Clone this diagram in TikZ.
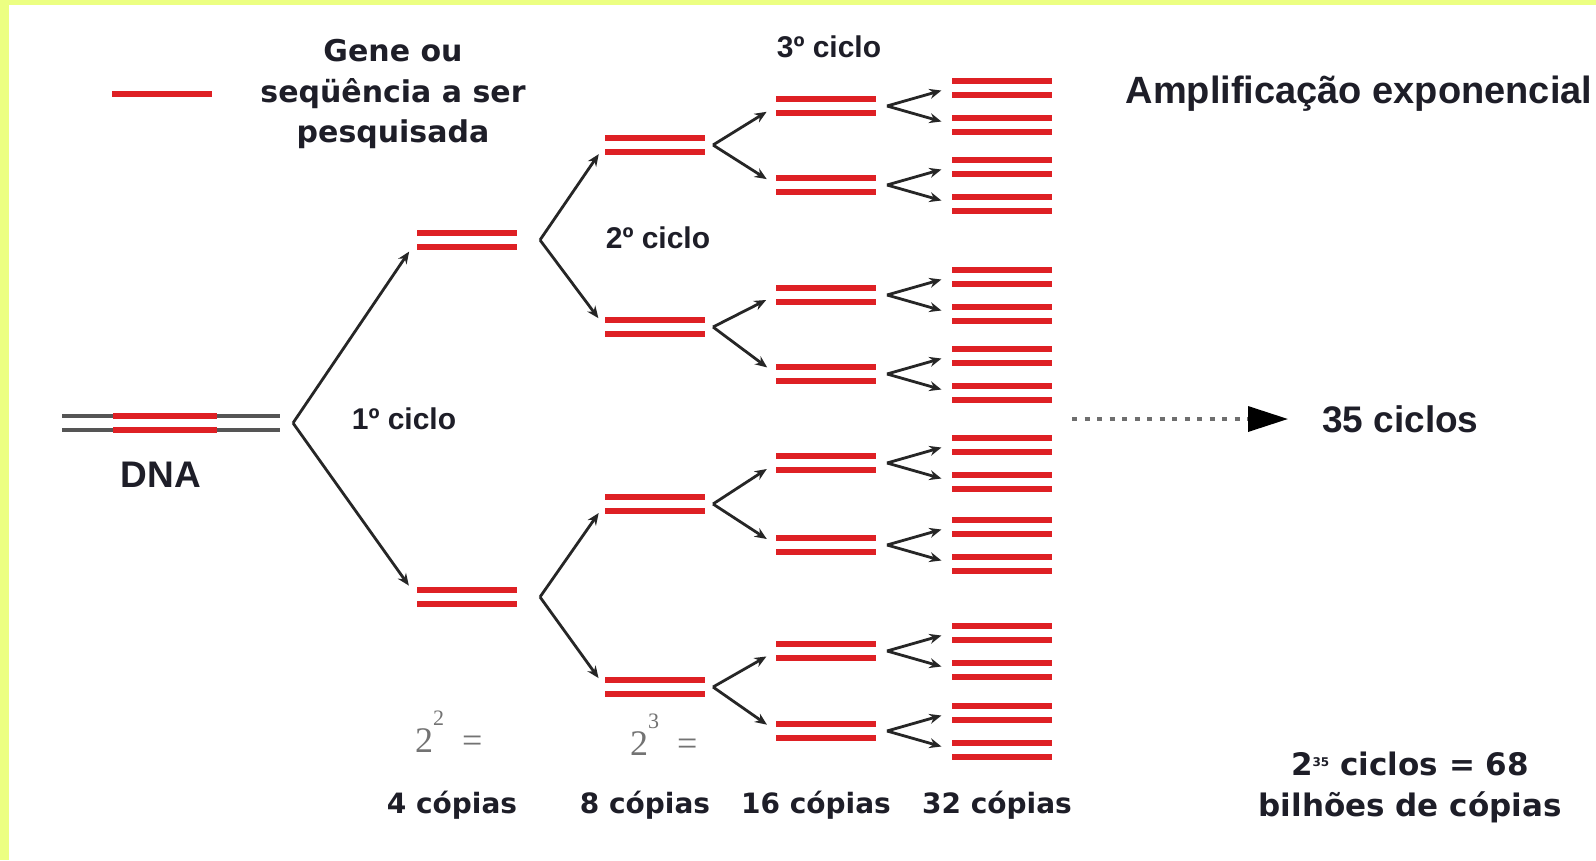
\documentclass[tikz,border=0pt]{standalone}
\usepackage{fontspec}
\setmainfont{Liberation Sans}
\newfontfamily\dvsans{DejaVu Sans}
\newfontfamily\lserif{Liberation Serif}
\usetikzlibrary{arrows.meta}
\definecolor{bgyel}{RGB}{236,255,130}
\definecolor{genered}{RGB}{222,32,36}
\definecolor{txt}{RGB}{30,30,40}
\definecolor{greytxt}{RGB}{115,115,115}
\definecolor{dnagrey}{RGB}{85,85,85}
\definecolor{dotgrey}{RGB}{110,110,110}
\newcommand{\genepair}[3]{%
  \node[genebox] (#1) at (#2,#3) {};
  \draw[redline] (#1.north west) -- (#1.north east);
  \draw[redline] (#1.south west) -- (#1.south east);}
\newcommand{\supn}[1]{\raisebox{27pt}{\fontsize{22}{22}\selectfont #1}}
\begin{document}
\begin{tikzpicture}[x=1pt,y=-1pt,
  genebox/.style={minimum width=100pt,minimum height=14pt,inner sep=0pt,outer sep=0pt},
  redline/.style={genered,line width=6pt},
  greyline/.style={dnagrey,line width=3.5pt},
  arr/.style={-{Stealth[length=12pt,width=10pt]},line width=2.8pt,black!85,shorten >=11pt},
  cyc/.style={inner sep=0pt,text=txt,font=\bfseries\fontsize{30}{36}\selectfont},
  big/.style={inner sep=0pt,text=txt,font=\bfseries\fontsize{37}{44}\selectfont},
  dv/.style={inner sep=0pt,text=txt,font=\dvsans\bfseries\fontsize{28}{34}\selectfont},
  expo/.style={inner sep=0pt,anchor=base west,text=greytxt,font=\lserif\fontsize{36}{40}\selectfont}]
\useasboundingbox (0,0) rectangle (1596,860);
\fill[bgyel] (0,0) rectangle (1596,860);
\fill[white] (9,5) rectangle (1596,860);

% legend
\coordinate (lgA) at (112,94);
\coordinate (lgB) at (212,94);
\draw[redline] (lgA) -- (lgB);
\node[inner sep=0pt,text=txt,align=center,font=\dvsans\bfseries\fontsize{30}{40.5}\selectfont] (legtxt) at (393,94) {Gene ou\\seqüência a ser\\pesquisada};

% DNA
\node[minimum width=218pt,minimum height=14pt,inner sep=0pt,outer sep=0pt] (dna) at (171,423) {};
\draw[greyline] (dna.north west) -- (dna.north east);
\draw[greyline] (dna.south west) -- (dna.south east);
\draw[redline] ([xshift=51pt]dna.north west) -- ([xshift=155pt]dna.north west);
\draw[redline] ([xshift=51pt]dna.south west) -- ([xshift=155pt]dna.south west);
\node[big] (dnalab) at (161,475) {DNA};

% cycle 1
\genepair{a1}{467}{240}
\genepair{a2}{467}{597}
% cycle 2
\genepair{b1}{655}{145}
\genepair{b2}{655}{327}
\genepair{b3}{655}{504}
\genepair{b4}{655}{687}
% cycle 3
\foreach \y [count=\i] in {106,185,295,374,463,545,651,731}{
  \genepair{c\i}{826}{\y}
  \coordinate (vc\i) at (887,\y);
}
% cycle 4
\foreach \y [count=\i] in {87.5,124.5,166.5,203.5,276.5,313.5,355.5,392.5,444.5,481.5,526.5,563.5,632.5,669.5,712.5,749.5}{
  \genepair{d\i}{1002}{\y}
}
% branch points
\coordinate (v0) at (293,423);
\coordinate (va1) at (540,240);
\coordinate (va2) at (540,597);
\coordinate (vb1) at (713,145);
\coordinate (vb2) at (713,327);
\coordinate (vb3) at (713,504);
\coordinate (vb4) at (713,687);

\draw[arr,shorten >=14pt] (v0) -- (a1.west);
\draw[arr,shorten >=14pt] (v0) -- (a2.west);
\foreach \p/\c in {va1/b1,va1/b2,va2/b3,va2/b4,vb1/c1,vb1/c2,vb2/c3,vb2/c4,vb3/c5,vb3/c6,vb4/c7,vb4/c8,
  vc1/d1,vc1/d2,vc2/d3,vc2/d4,vc3/d5,vc3/d6,vc4/d7,vc4/d8,vc5/d9,vc5/d10,vc6/d11,vc6/d12,vc7/d13,vc7/d14,vc8/d15,vc8/d16}
  \draw[arr] (\p) -- (\c.west);

% cycle labels
\node[cyc] (cy1) at (404,419) {1º ciclo};
\node[cyc] (cy2) at (658,238) {2º ciclo};
\node[cyc] (cy3) at (829,47) {3º ciclo};

\node[inner sep=0pt,text=txt,font=\bfseries\fontsize{38}{44}\selectfont] (amp) at (1359,94) {Amplificação exponencial};

% 35 cycles arrow
\coordinate (dots) at (1072,419);
\node[big,anchor=west] (n35) at (1322,419) {35 ciclos};
\draw[dotgrey,line width=3.5pt,dash pattern=on 5pt off 7.5pt,shorten >=34pt,
  -{Triangle[length=40pt,width=25pt,color=black]}] (dots) -- (n35.west);

% exponent labels
\node[expo] (e2) at (415,752) {2\supn{2}\ \ =};
\node[expo] (e3) at (630,755) {2\supn{3}\ \ =};

% copies
\node[dv,anchor=base] (k4) at (452,813) {4 cópias};
\node[dv,anchor=base] (k8) at (645,813) {8 cópias};
\node[dv,anchor=base] (k16) at (816,813) {16 cópias};
\node[dv,anchor=base] (k32) at (997,813) {32 cópias};

\node[inner sep=0pt,text=txt,align=center,font=\dvsans\bfseries\fontsize{31}{41}\selectfont] (total) at (1410,787) {2\textsuperscript{\fontsize{12}{12}\selectfont 35} ciclos = 68\\bilhões de cópias};
\end{tikzpicture}
\end{document}
